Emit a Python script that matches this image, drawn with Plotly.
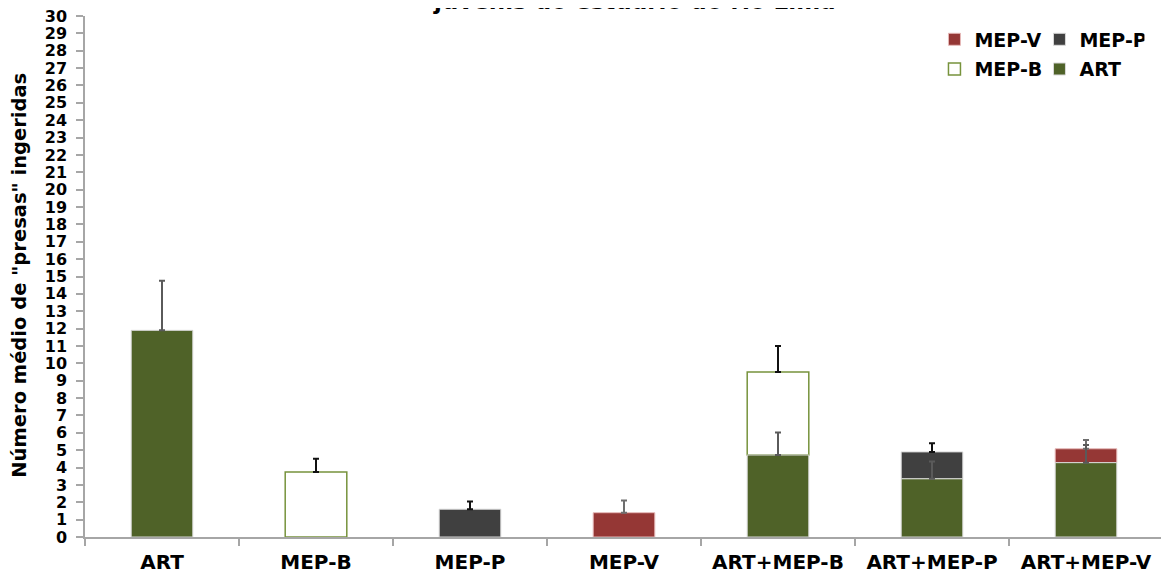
import plotly.graph_objects as go

categories = ["ART", "MEP-B", "MEP-P", "MEP-V", "ART+MEP-B", "ART+MEP-P", "ART+MEP-V"]

art_vals = [11.9, None, None, None, 4.72, 3.35, 4.28]
art_err = [2.85, 0, 0, 0, 1.3, 1.0, 1.02]
mepb_vals = [None, 3.75, None, None, 4.78, None, None]
mepb_err = [0, 0.75, 0, 0, 1.5, 0, 0]
mepp_vals = [None, None, 1.6, None, None, 1.55, None]
mepp_err = [0, 0, 0.45, 0, 0, 0.5, 0]
mepv_vals = [None, None, None, 1.4, None, None, 0.8]
mepv_err = [0, 0, 0, 0.7, 0, 0, 0.5]

y_ticks = list(range(0, 31))

GREEN = "#4F6228"
DARK = "#404040"
RED = "#953735"
FONT = "DejaVu Sans"

# stacked segments sit on top of the ART segment (base = ART value, or 0)
art_base = [v if v is not None else 0 for v in art_vals]

def err(vals, color):
    return dict(type="data", array=vals, symmetric=False, arrayminus=[0] * len(vals),
                color=color, thickness=2, width=3)

fig = go.Figure()
fig.add_trace(go.Bar(x=categories, y=mepb_vals, base=art_base, name="MEP-B",
                     marker=dict(color="white", line=dict(color="#77933C", width=1.5)),
                     error_y=err(mepb_err, "#111111"), legend="legend2", legendrank=1))
fig.add_trace(go.Bar(x=categories, y=mepp_vals, base=art_base, name="MEP-P",
                     marker=dict(color=DARK, line=dict(color="#d9d9d9", width=1)),
                     error_y=err(mepp_err, "#111111"), legend="legend", legendrank=2))
fig.add_trace(go.Bar(x=categories, y=mepv_vals, base=art_base, name="MEP-V",
                     marker=dict(color=RED, line=dict(color="#e6b9b8", width=1)),
                     error_y=err(mepv_err, "#6e6e6e"), legend="legend", legendrank=1))
fig.add_trace(go.Bar(x=categories, y=art_vals, name="ART",
                     marker=dict(color=GREEN, line=dict(color="#d9d9d9", width=1)),
                     error_y=err(art_err, "#5a5a5a"), legend="legend2", legendrank=2))

legend_common = dict(orientation="h", xanchor="left", yanchor="middle", bgcolor="rgba(0,0,0,0)",
                     font=dict(family=FONT, size=19, color="black", weight="bold"),
                     entrywidth=60, entrywidthmode="pixels", itemwidth=30, traceorder="normal")

fig.update_layout(
    width=1161, height=568,
    barmode="overlay", bargap=0.6,
    plot_bgcolor="white", paper_bgcolor="white",
    margin=dict(l=77, r=6, t=8, b=39),
    showlegend=True,
    legend=dict(x=0.788, y=0.955, **legend_common),
    legend2=dict(x=0.788, y=0.898, **legend_common),
    xaxis=dict(
        type="category", showline=True, linecolor="#a6a6a6", linewidth=1.5,
        ticks="outside", tickson="boundaries", ticklen=7, tickcolor="#a6a6a6", tickwidth=1.5,
        tickfont=dict(family=FONT, size=20, color="black", weight="bold"),
        ticklabelstandoff=6,
        showgrid=False, zeroline=False, automargin=False,
    ),
    yaxis=dict(
        range=[0, 30], tickmode="array", tickvals=y_ticks, ticktext=[str(v) for v in y_ticks],
        showline=True, linecolor="#a6a6a6", linewidth=1.5,
        ticks="outside", ticklen=7, tickcolor="#a6a6a6", tickwidth=1.5,
        tickfont=dict(family=FONT, size=16, color="black", weight="bold"),
        ticklabelstandoff=6, ticklabeloverflow="allow",
        showgrid=False, zeroline=False, automargin=False,
    ),
)

fig.add_annotation(text="Número médio de \"presas\" ingeridas", xref="paper", yref="paper",
                   x=-0.0605, y=0.503, xanchor="center", yanchor="middle", textangle=-90,
                   showarrow=False, font=dict(family=FONT, size=19.5, color="black", weight="bold"))

fig.add_annotation(text="juvenis do estuário do rio Lima", xref="paper", yref="paper",
                   x=0.51, y=1.0, xanchor="center", yanchor="bottom", showarrow=False,
                   font=dict(family=FONT, size=23, color="black", weight="bold"))

fig.write_html("out.html")
